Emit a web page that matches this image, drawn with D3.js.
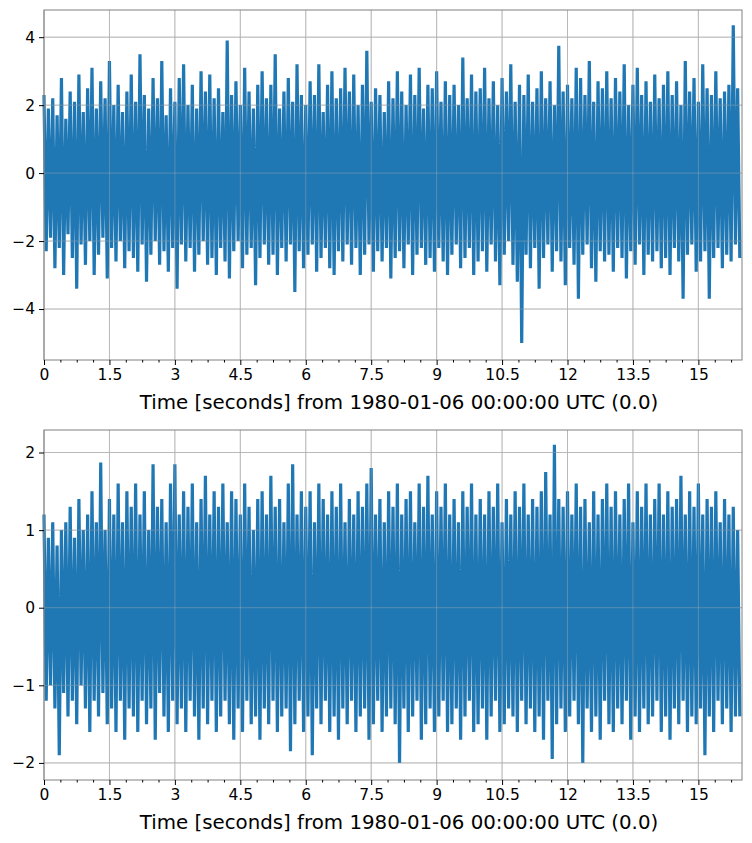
<!DOCTYPE html>
<html>
<head>
<meta charset="utf-8">
<script src="https://cdn.jsdelivr.net/npm/d3@7"></script>
<style>
body { margin: 0; background: #fff; }
text { font-family: "DejaVu Sans", sans-serif; }
</style>
</head>
<body>
<svg id="chart" width="752" height="843"></svg>
<script>
// peaks, one upper and one lower swing every 0.1 s
var topUpper = [
  2.3,1.9,2.2,1.7,2.8,1.6,2.4,2.1,2.9,1.8, 2.5,3.1,1.9,2.7,2.2,3.3,2.0,2.6,1.8,2.4,
  2.9,2.1,3.5,2.3,1.9,2.8,2.2,3.3,1.7,2.5, 2.1,2.8,3.2,2.0,2.6,1.9,3.0,2.4,2.9,2.2,
  2.5,1.8,3.9,2.3,2.7,2.0,3.1,2.4,1.9,2.6, 3.0,2.2,2.6,3.5,1.9,2.4,2.8,2.1,3.2,2.3,
  2.0,2.7,2.3,3.2,1.8,2.6,3.0,2.2,2.5,3.1, 2.4,2.9,2.0,2.6,3.6,2.1,2.5,2.3,1.8,2.7,
  2.2,3.0,2.4,2.0,2.9,2.3,3.1,1.9,2.6,2.5, 3.0,2.1,2.7,2.3,2.6,2.0,3.4,2.2,2.9,2.4,
  2.5,3.1,2.2,2.7,2.0,2.8,2.4,3.2,2.1,2.6, 2.3,2.9,2.1,2.5,3.0,2.2,2.7,2.0,3.75,2.4,
  2.6,2.2,3.1,2.8,2.3,3.3,2.1,2.7,2.5,3.0, 2.2,2.8,2.4,3.2,2.0,2.6,3.1,2.3,2.7,2.1,
  2.9,2.2,2.6,3.0,2.3,2.7,2.0,3.3,2.4,2.8, 2.1,3.2,2.5,2.3,3.0,2.2,2.4,2.6,4.35,2.5
];
var topLower = [
  -2.3,-1.9,-2.8,-2.2,-3.0,-1.8,-2.5,-3.4,-2.1,-2.7, -2.0,-3.0,-2.4,-1.9,-3.1,-2.2,-2.6,-2.0,-2.8,-2.3,
  -2.5,-2.9,-2.1,-3.2,-2.4,-2.0,-2.7,-2.3,-2.9,-2.2, -3.4,-2.1,-2.6,-2.2,-2.9,-2.4,-2.0,-2.7,-2.5,-3.0,
  -2.2,-2.6,-3.1,-2.3,-2.0,-2.8,-2.4,-2.2,-3.3,-2.5, -2.1,-2.7,-2.4,-3.0,-2.2,-2.6,-2.1,-3.5,-2.3,-2.8,
  -2.4,-2.1,-2.9,-2.5,-2.2,-2.8,-3.0,-2.3,-2.6,-2.1, -2.7,-2.2,-3.0,-2.4,-2.1,-2.9,-2.3,-2.6,-2.2,-3.1,
  -2.5,-2.3,-2.8,-2.1,-3.0,-2.4,-2.2,-2.7,-2.5,-2.9, -2.2,-2.6,-3.0,-2.4,-2.1,-2.8,-2.5,-2.2,-3.0,-2.6,
  -2.3,-2.9,-2.1,-2.6,-3.3,-2.4,-2.0,-2.7,-3.2,-5.0, -2.4,-2.8,-2.2,-3.4,-2.5,-2.1,-2.9,-2.3,-2.6,-3.3,
  -2.2,-2.7,-3.7,-2.4,-2.1,-2.8,-3.2,-2.3,-2.6,-2.4, -2.9,-2.2,-2.5,-3.1,-2.3,-2.7,-2.1,-3.0,-2.4,-2.6,
  -2.3,-2.8,-2.5,-3.0,-2.2,-2.6,-3.7,-2.4,-2.1,-2.9, -2.6,-2.3,-3.7,-2.5,-2.2,-2.8,-2.4,-2.6,-2.1,-2.5
];
var bottomUpper = [
  1.2,0.9,1.1,0.8,1.0,1.1,1.3,0.9,1.4,1.0, 1.2,1.5,1.1,1.87,1.0,1.4,1.2,1.6,1.1,1.5,
  1.3,1.6,1.2,1.5,1.0,1.85,1.3,1.4,1.1,1.6, 1.85,1.2,1.5,1.3,1.6,1.1,1.4,1.7,1.2,1.5,
  1.3,1.6,1.1,1.5,1.4,1.2,1.6,1.3,1.0,1.4, 1.5,1.2,1.7,1.3,1.4,1.1,1.6,1.85,1.2,1.5,
  1.3,1.5,1.1,1.6,1.4,1.2,1.5,1.3,1.6,1.1, 1.4,1.2,1.5,1.3,1.6,1.8,1.2,1.4,1.1,1.5,
  1.3,1.6,1.2,1.4,1.5,1.1,1.6,1.3,1.7,1.2, 1.5,1.3,1.6,1.2,1.4,1.1,1.5,1.3,1.6,1.2,
  1.4,1.2,1.5,1.3,1.6,1.1,1.4,1.2,1.5,1.3, 1.6,1.2,1.4,1.3,1.5,1.75,1.2,2.1,1.4,1.3,
  1.5,1.2,1.6,1.3,1.4,1.1,1.5,1.2,1.4,1.6, 1.3,1.5,1.2,1.4,1.6,1.1,1.5,1.3,1.6,1.2,
  1.4,1.6,1.2,1.5,1.3,1.4,1.7,1.2,1.5,1.3, 1.6,1.2,1.4,1.3,1.5,1.1,1.4,1.2,1.3,1.0
];
var bottomLower = [
  -1.2,-1.0,-1.3,-1.9,-1.1,-1.4,-1.2,-1.5,-1.0,-1.3, -1.6,-1.2,-1.4,-1.1,-1.5,-1.3,-1.6,-1.2,-1.7,-1.3,
  -1.4,-1.6,-1.2,-1.5,-1.3,-1.7,-1.1,-1.4,-1.6,-1.2, -1.5,-1.3,-1.6,-1.2,-1.4,-1.7,-1.3,-1.5,-1.2,-1.6,
  -1.4,-1.2,-1.5,-1.7,-1.3,-1.6,-1.2,-1.5,-1.4,-1.7, -1.3,-1.5,-1.2,-1.6,-1.4,-1.3,-1.85,-1.5,-1.2,-1.6,
  -1.4,-1.9,-1.3,-1.5,-1.2,-1.6,-1.4,-1.7,-1.3,-1.5, -1.2,-1.6,-1.4,-1.3,-1.7,-1.5,-1.2,-1.6,-1.4,-1.3,
  -1.5,-2.0,-1.3,-1.6,-1.4,-1.2,-1.7,-1.5,-1.3,-1.6, -1.4,-1.2,-1.6,-1.5,-1.3,-1.7,-1.4,-1.2,-1.6,-1.5,
  -1.3,-1.7,-1.4,-1.2,-1.6,-1.5,-1.3,-1.4,-1.6,-1.2, -1.5,-1.3,-1.6,-1.4,-1.7,-1.2,-1.95,-1.5,-1.3,-1.6,
  -1.4,-1.2,-1.5,-2.0,-1.3,-1.6,-1.4,-1.7,-1.2,-1.5, -1.6,-1.3,-1.5,-1.2,-1.7,-1.4,-1.6,-1.3,-1.5,-1.4,
  -1.2,-1.6,-1.4,-1.7,-1.3,-1.5,-1.2,-1.6,-1.4,-1.5, -1.3,-1.9,-1.4,-1.6,-1.2,-1.5,-1.3,-1.6,-1.4,-1.4
];
var xTicks = [0, 1.5, 3, 4.5, 6, 7.5, 9, 10.5, 12, 13.5, 15];
var topYTicks = [-4, -2, 0, 2, 4];
var bottomYTicks = [-2, -1, 0, 1, 2];
var step = 0.1;
var xLabel = "Time [seconds] from 1980-01-06 00:00:00 UTC (0.0)";

var svg = d3.select("#chart");
var left = 44, right = 742;

function drawPanel(top, bottom, yDomain, yTicks, upper, lower) {
    var x = d3.scaleLinear().domain([0, 16]).range([left, right]);
    var y = d3.scaleLinear().domain(yDomain).range([bottom, top]);
    var g = svg.append("g");

    // grid
    g.selectAll(".vg").data(xTicks).enter().append("line")
        .attr("x1", d => x(d)).attr("x2", d => x(d))
        .attr("y1", top).attr("y2", bottom)
        .attr("stroke", "#b0b0b0").attr("stroke-width", 0.8);
    g.selectAll(".hg").data(yTicks).enter().append("line")
        .attr("x1", left).attr("x2", right)
        .attr("y1", d => y(d)).attr("y2", d => y(d))
        .attr("stroke", "#b0b0b0").attr("stroke-width", 0.8);

    // signal: alternate upper and lower swings
    var pts = [];
    for (let i = 0; i < upper.length; i++) {
        pts.push([i * step, upper[i]]);
        pts.push([i * step + step / 2, lower[i]]);
    }
    g.append("path").datum(pts)
        .attr("fill", "none").attr("stroke", "#1f77b4").attr("stroke-width", 3.2)
        .attr("stroke-linejoin", "bevel")
        .attr("d", d3.line().x(d => x(d[0])).y(d => y(d[1])));

    // grid shows faintly through the signal, like the reference
    g.selectAll(".hg2").data(yTicks).enter().append("line")
        .attr("x1", left).attr("x2", right)
        .attr("y1", d => y(d)).attr("y2", d => y(d))
        .attr("stroke", "#b0b0b0").attr("stroke-width", 0.8).attr("opacity", 0.5);
    g.selectAll(".vg2").data(xTicks).enter().append("line")
        .attr("x1", d => x(d)).attr("x2", d => x(d))
        .attr("y1", top).attr("y2", bottom)
        .attr("stroke", "#b0b0b0").attr("stroke-width", 0.8).attr("opacity", 0.5);

    g.append("rect").attr("x", left).attr("y", top)
        .attr("width", right - left).attr("height", bottom - top)
        .attr("fill", "none").attr("stroke", "#808080").attr("stroke-width", 1);

    var minor = d3.range(0, 16.01, 0.375).filter(v => xTicks.indexOf(v) < 0);
    var xAxis = d3.axisBottom(x).tickValues(xTicks).tickFormat(d3.format("")).tickSize(5).tickPadding(4);
    var ax = g.append("g").attr("transform", "translate(0," + bottom + ")").call(xAxis);
    g.append("g").attr("transform", "translate(0," + bottom + ")")
        .call(d3.axisBottom(x).tickValues(minor).tickFormat("").tickSize(2.5))
        .select(".domain").remove();
    var ay = g.append("g").attr("transform", "translate(" + left + ",0)")
        .call(d3.axisLeft(y).tickValues(yTicks).tickSize(5).tickPadding(4)
            .tickFormat(d => (d < 0 ? "\u2212" + (-d) : "" + d)));
    [ax, ay].forEach(a => {
        a.select(".domain").remove();
        a.selectAll("text").attr("font-size", 15.5).attr("fill", "#000")
            .attr("font-family", "DejaVu Sans, sans-serif");
    });
    g.selectAll(".tick line").attr("stroke", "#000");

    g.append("text").attr("x", (left + right) / 2 + 6).attr("y", bottom + 49)
        .attr("text-anchor", "middle").attr("font-size", 19.8).text(xLabel);
}

drawPanel(10, 360, [-5.5, 4.8], topYTicks, topUpper, topLower);
drawPanel(430, 780, [-2.22, 2.29], bottomYTicks, bottomUpper, bottomLower);
</script>
</body>
</html>
